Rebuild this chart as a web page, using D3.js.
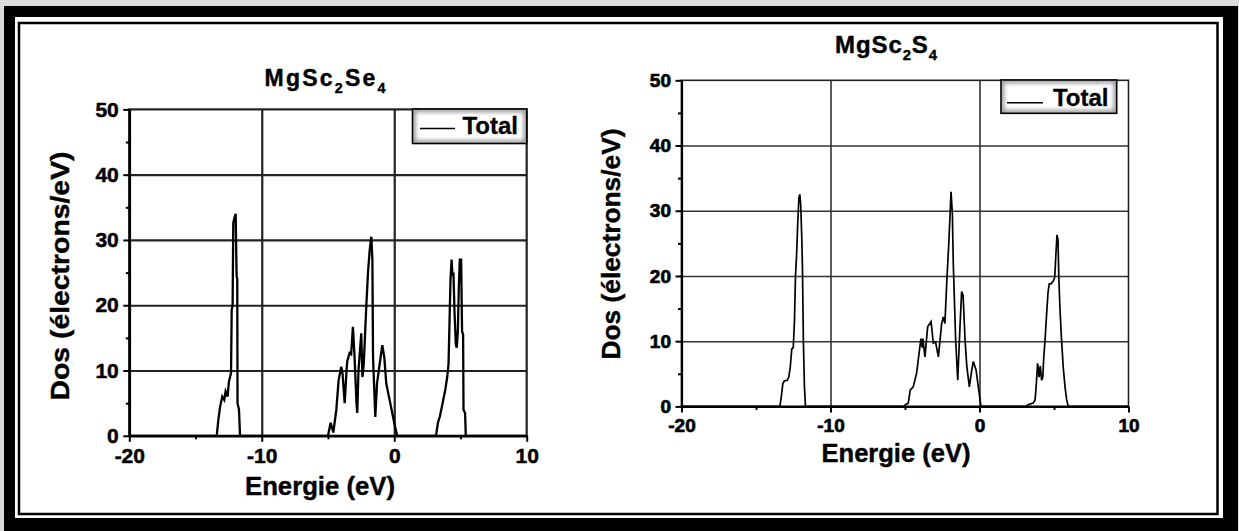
<!doctype html>
<html>
<head>
  <meta charset="utf-8">
  <title>DOS MgSc2Se4 / MgSc2S4</title>
  <style>
    html, body { margin: 0; padding: 0; background: #dcdcdc; }
    svg { display: block; }
    text { font-family: "Liberation Sans", Arial, sans-serif; font-weight: bold; fill: #000; }
  </style>
</head>
<body>
  <div id="chart"></div>
  <script src="https://cdnjs.cloudflare.com/ajax/libs/d3/7.8.5/d3.min.js"></script>
  <script>
    // données
    const xTicks = [-20, -10, 0, 10];
    const xMinor = [-15, -5, 5];
    const yTicks = [0, 10, 20, 30, 40, 50];
    const yMinor = [5, 15, 25, 35, 45];
    const legendLabel = 'Total';

    const energySe = [-20, -13.4, -13.28, -13.15, -12.98, -12.83, -12.73, -12.58, -12.48, -12.32, -12.27, -12.2, -12.15, -12.05, -11.97, -11.9, -11.85, -11.83, -11.72, -11.64,
      -5.0, -4.8, -4.6, -4.5, -4.37, -4.2, -4.0, -3.9, -3.74, -3.6, -3.55, -3.37, -3.25, -3.12, -3.0, -2.85, -2.79, -2.7, -2.49, -2.4, -2.3, -2.11, -1.98, -1.85, -1.73, -1.65, -1.6, -1.43, -1.3, -1.1, -0.9, -0.75, -0.6, -0.4, -0.1, 0.05, 0.22,
      3.15, 3.3, 3.45, 3.6, 3.75, 3.85, 4.0, 4.1, 4.18, 4.25, 4.33, 4.4, 4.47, 4.55, 4.65, 4.72, 4.8, 4.88, 4.95, 5.05, 5.12, 5.2, 5.23, 5.35, 5.4, 10];
    const dosSe = [0, 0, 2.4, 4.4, 6, 5.5, 6.8, 6, 8.3, 9.6, 19.3, 20, 32.6, 33.5, 34, 24.5, 24, 5, 4, 0,
      0, 2, 0.5, 2, 4, 8.5, 10.6, 9.5, 5, 10, 11.4, 12.7, 12.5, 16.7, 12.3, 5, 3.5, 10, 15.7, 9, 11, 19.8, 25, 28.5, 30.5, 27, 12, 2.9, 8, 11, 13.9, 12, 8, 6, 3, 1.5, 0,
      0, 2, 3, 4.5, 6, 7, 9, 11, 18, 24, 27, 24.5, 25, 19, 14, 13.5, 16, 23, 27, 27, 16, 15.5, 4, 3.5, 0, 0];

    const energyS = [-20, -13.4, -13.3, -13.2, -13.1, -12.9, -12.8, -12.7, -12.6, -12.5, -12.42, -12.35, -12.28, -12.2, -12.12, -12.06, -12.0, -11.93, -11.88, -11.82, -11.75, -11.68,
      -5.1, -4.95, -4.78, -4.65, -4.45, -4.22, -4.06, -3.93, -3.85, -3.8, -3.66, -3.48, -3.25, -3.1, -2.95, -2.76, -2.54, -2.43, -2.32, -2.2, -2.05, -1.91, -1.82, -1.76, -1.6, -1.46, -1.32, -1.2, -1.1, -0.97, -0.85, -0.68, -0.55, -0.42, -0.23, -0.08, 0.1,
      3.1, 3.3, 3.6, 3.73, 3.8, 3.9, 4.0, 4.08, 4.17, 4.25, 4.3, 4.4, 4.5, 4.6, 4.68, 4.8, 4.95, 5.05, 5.12, 5.2, 5.27, 5.32, 5.4, 5.5, 5.62, 5.74, 5.85, 5.96, 10];
    const dosS = [0, 0, 1.5, 3.5, 3.9, 4, 4.5, 6, 8.8, 9, 13, 20, 23, 28, 32, 32.5, 31, 26, 21, 10, 3, 0,
      0, 0.3, 0.5, 2.5, 3, 5.1, 8.1, 10.4, 9, 10.4, 7.6, 12.2, 13, 9.7, 9.9, 7.6, 12.7, 13.7, 12.7, 18.9, 25.5, 32.9, 29.5, 21.9, 10.2, 4, 11.7, 17.6, 17, 10.2, 6.1, 3, 5.1, 6.9, 5.6, 3, 0,
      0, 0.3, 0.5, 1, 3, 6.6, 4.5, 6.2, 4, 4.5, 7, 10.2, 14, 17.5, 18.8, 18.8, 19.2, 19.8, 23, 26.3, 25.5, 20, 15, 10.5, 6, 3, 1, 0, 0];

    const W = 1239, H = 531;
    const svg = d3.select('#chart').append('svg').attr('width', W).attr('height', H);
    const defs = svg.append('defs');

    // cadre double
    svg.append('rect').attr('x', 4).attr('y', 6).attr('width', 1234).attr('height', 525).attr('fill', '#000');
    svg.append('rect').attr('x', 15).attr('y', 17).attr('width', 1208).attr('height', 501).attr('fill', '#fff');
    svg.append('rect').attr('x', 19).attr('y', 23).attr('width', 1198.5).attr('height', 491)
      .attr('fill', 'none').attr('stroke', '#000').attr('stroke-width', 2.5);

    defs.append('filter').attr('id', 'glow').attr('x', '-20%').attr('y', '-20%').attr('width', '140%').attr('height', '140%')
      .append('feGaussianBlur').attr('stdDeviation', 2);

    const panels = [
      {
        id: 'se', energy: energySe, dos: dosSe,
        left: 129.3, right: 526.7, top: 109.4, bottom: 435.8,
        title: ['MgSc', '2', 'Se', '4'], titleX: 325, titleY: 86, titleSize: 23, titleLen: 121,
        tickSize: 21, tickY: 12, tickStroke: 0.5, lineW: 2.3, gridW: 2.2, gridC: '#222', axisW: 2.6,
        yLabelX: 69, yLabelY: 276, yLabelSize: 25, yLabelLen: 249,
        xLabelX: 320, xLabelY: 495, xLabelSize: 25, xLabelLen: 150,
        legend: { x: 412.5, y: 109, w: 114.2, h: 34.5, lx0: 420, lx1: 455, ly: 128.5, tx: 518, ty: 133.5, size: 24 }
      },
      {
        id: 's', energy: energyS, dos: dosS,
        left: 681.5, right: 1128.5, top: 80.3, bottom: 406.4,
        title: ['MgSc', '2', 'S', '4'], titleX: 886, titleY: 53, titleSize: 24, titleLen: 102,
        tickSize: 19, tickY: 12.5, tickStroke: 0.7, lineW: 1.7, gridW: 1.6, gridC: '#333', axisW: 2.2,
        yLabelX: 620, yLabelY: 244, yLabelSize: 25, yLabelLen: 231,
        xLabelX: 896, xLabelY: 462, xLabelSize: 25, xLabelLen: 149,
        legend: { x: 1001, y: 80, w: 115.7, h: 33.3, lx0: 1007, lx1: 1043, ly: 102.7, tx: 1108.5, ty: 105.5, size: 24 }
      }
    ];

    panels.forEach(p => {
      const x = d3.scaleLinear().domain([-20, 10]).range([p.left, p.right]);
      const y = d3.scaleLinear().domain([0, 50]).range([p.bottom, p.top]);
      const g = svg.append('g');

      // grille
      g.append('g').attr('transform', `translate(0,${p.bottom})`)
        .call(d3.axisBottom(x).tickValues([-10, 0]).tickSize(-(p.bottom - p.top)).tickFormat(''))
        .call(s => s.select('.domain').remove())
        .call(s => s.selectAll('line').attr('stroke', p.gridC).attr('stroke-width', p.gridW));
      g.append('g').attr('transform', `translate(${p.left},0)`)
        .call(d3.axisLeft(y).tickValues([10, 20, 30, 40]).tickSize(-(p.right - p.left)).tickFormat(''))
        .call(s => s.select('.domain').remove())
        .call(s => s.selectAll('line').attr('stroke', p.gridC).attr('stroke-width', p.gridW));

      // courbe
      const pts = p.energy.map((e, i) => [e, p.dos[i]]);
      g.append('path').datum(pts)
        .attr('fill', 'none').attr('stroke', '#000').attr('stroke-width', p.lineW)
        .attr('stroke-linejoin', 'miter')
        .attr('d', d3.line().x(d => x(d[0])).y(d => y(d[1])));

      // cadre du graphe
      g.append('rect').attr('x', p.left).attr('y', p.top)
        .attr('width', p.right - p.left).attr('height', p.bottom - p.top)
        .attr('fill', 'none').attr('stroke', '#222').attr('stroke-width', p.gridW);

      // axes
      const styleAxis = s => {
        s.select('.domain').attr('stroke', '#000').attr('stroke-width', p.axisW);
        s.selectAll('line').attr('stroke', '#000').attr('stroke-width', 2);
        s.selectAll('text').attr('font-size', p.tickSize).attr('font-family', '"Liberation Sans", Arial, sans-serif')
          .attr('font-weight', 'bold').attr('fill', '#000')
          .attr('stroke', '#000').attr('stroke-width', p.tickStroke);
      };
      const plain = d => String(d);
      g.append('g').attr('transform', `translate(0,${p.bottom})`)
        .call(d3.axisBottom(x).tickValues(xTicks).tickFormat(plain).tickSize(6).tickPadding(p.tickY - 6).tickSizeOuter(0))
        .call(styleAxis);
      g.append('g').attr('transform', `translate(0,${p.bottom})`)
        .call(d3.axisBottom(x).tickValues(xMinor).tickSize(3.5).tickFormat('').tickSizeOuter(0))
        .call(styleAxis).call(s => s.select('.domain').remove());
      g.append('g').attr('transform', `translate(${p.left},0)`)
        .call(d3.axisLeft(y).tickValues(yTicks).tickFormat(plain).tickSize(6).tickPadding(4.5).tickSizeOuter(0))
        .call(styleAxis);
      g.append('g').attr('transform', `translate(${p.left},0)`)
        .call(d3.axisLeft(y).tickValues(yMinor).tickSize(3.5).tickFormat('').tickSizeOuter(0))
        .call(styleAxis).call(s => s.select('.domain').remove());

      // titre
      const t = g.append('text').attr('x', p.titleX).attr('y', p.titleY)
        .attr('text-anchor', 'middle').attr('font-size', p.titleSize)
        .attr('textLength', p.titleLen).attr('lengthAdjust', 'spacing')
        .attr('stroke', '#000').attr('stroke-width', 0.4);
      p.title.forEach((part, i) => {
        const sub = i % 2 === 1;
        t.append('tspan').text(part)
          .attr('font-size', sub ? p.titleSize * 0.62 : p.titleSize)
          .attr('dy', sub ? 7 : (i === 0 ? 0 : -7));
      });

      // libellés d'axes
      g.append('text').attr('transform', `translate(${p.yLabelX},${p.yLabelY}) rotate(-90)`)
        .attr('text-anchor', 'middle').attr('font-size', p.yLabelSize)
        .attr('textLength', p.yLabelLen).attr('lengthAdjust', 'spacingAndGlyphs')
        .attr('stroke', '#000').attr('stroke-width', 0.4)
        .text('Dos (électrons/eV)');
      g.append('text').attr('x', p.xLabelX).attr('y', p.xLabelY)
        .attr('text-anchor', 'middle').attr('font-size', p.xLabelSize)
        .attr('textLength', p.xLabelLen).attr('lengthAdjust', 'spacingAndGlyphs')
        .attr('stroke', '#000').attr('stroke-width', 0.4)
        .text('Energie (eV)');

      // légende
      const L = p.legend;
      defs.append('clipPath').attr('id', 'clip-' + p.id)
        .append('rect').attr('x', L.x).attr('y', L.y).attr('width', L.w).attr('height', L.h);
      const lg = g.append('g');
      lg.append('rect').attr('x', L.x).attr('y', L.y).attr('width', L.w).attr('height', L.h).attr('fill', '#fff');
      lg.append('rect').attr('x', L.x + 1).attr('y', L.y + 1).attr('width', L.w - 2).attr('height', L.h - 2)
        .attr('fill', 'none').attr('stroke', '#8a8a8a').attr('stroke-width', 4)
        .attr('filter', 'url(#glow)').attr('clip-path', `url(#clip-${p.id})`);
      lg.append('rect').attr('x', L.x).attr('y', L.y).attr('width', L.w).attr('height', L.h)
        .attr('fill', 'none').attr('stroke', '#000').attr('stroke-width', 1.6);
      lg.append('line').attr('x1', L.lx0).attr('x2', L.lx1).attr('y1', L.ly).attr('y2', L.ly)
        .attr('stroke', '#000').attr('stroke-width', 1.5);
      lg.append('text').attr('x', L.tx).attr('y', L.ty).attr('text-anchor', 'end')
        .attr('font-size', L.size).attr('stroke', '#000').attr('stroke-width', 0.3).text(legendLabel);
    });
  </script>
</body>
</html>
